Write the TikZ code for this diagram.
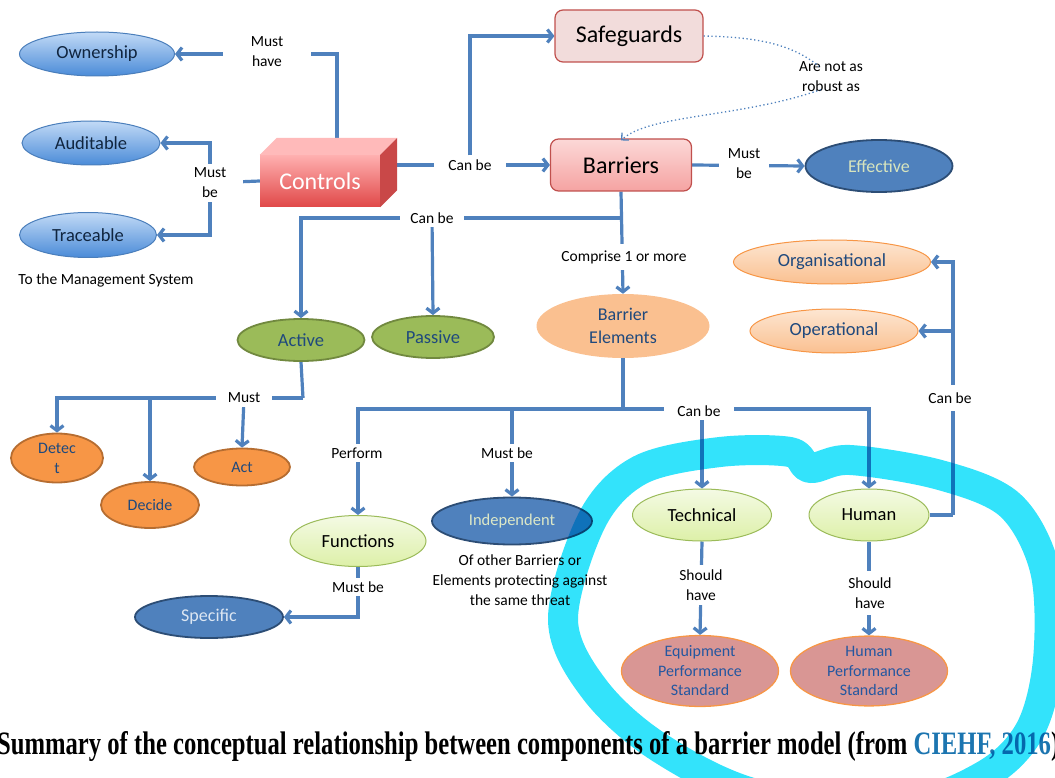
\documentclass[tikz,border=0pt]{standalone}
\usepackage{fontspec}
\setmainfont{Carlito}
\newfontfamily\capfont{Liberation Serif}
\usetikzlibrary{shapes.geometric,arrows.meta}
\definecolor{lineblue}{HTML}{4F81BD}
\definecolor{navy}{HTML}{10253F}
\definecolor{dblue}{HTML}{1F497D}
\definecolor{ownTop}{HTML}{C2DAF6}
\definecolor{ownBot}{HTML}{4A8BD8}
\definecolor{ownBorder}{HTML}{4A7EBB}
\definecolor{midblue}{HTML}{4F81BD}
\definecolor{darkborder}{HTML}{2C4D75}
\definecolor{effText}{HTML}{D7E4BD}
\definecolor{specText}{HTML}{DCE6F2}
\definecolor{greenFill}{HTML}{9BBB59}
\definecolor{greenBorder}{HTML}{71893F}
\definecolor{orangeFill}{HTML}{F79646}
\definecolor{orangeBorder}{HTML}{B66D31}
\definecolor{peach}{HTML}{FAC090}
\definecolor{peachTop}{HTML}{FDE6D2}
\definecolor{ltgreenTop}{HTML}{F4FAE4}
\definecolor{ltgreenBot}{HTML}{DDF0A8}
\definecolor{rose}{HTML}{D99694}
\definecolor{roseText}{HTML}{2457A0}
\definecolor{safeFill}{HTML}{F2DCDB}
\definecolor{redBorder}{HTML}{C0504D}
\definecolor{barTop}{HTML}{FCD8D7}
\definecolor{barBot}{HTML}{F5A3A2}
\definecolor{ctrlTop}{HTML}{FFB0B0}
\definecolor{ctrlBot}{HTML}{E04848}
\definecolor{ctrlLid}{HTML}{FFBABA}
\definecolor{ctrlSide}{HTML}{C94848}
\definecolor{hilite}{HTML}{33E3FB}
\definecolor{citeblue}{HTML}{1C75B0}
\pgfdeclarelayer{bg}
\pgfdeclarelayer{fg}
\pgfsetlayers{bg,main,fg}
\begin{document}
\begin{tikzpicture}[x=1pt,y=-1pt,
  conn/.style={draw=lineblue, line width=3.2pt},
  arr/.style={conn, -{Straight Barb[length=5pt,width=13pt]}},
  dotline/.style={draw=lineblue, line width=1.3pt, dash pattern=on 1.3pt off 2.6pt},
  lbl/.style={fill=white, inner sep=4pt, align=center, font=\fontsize{15.5}{20}\selectfont},
  ell/.style={ellipse, inner sep=0pt, align=center},
  blueell/.style={ell, top color=ownTop, bottom color=ownBot, draw=ownBorder, line width=1pt, text=navy, font=\fontsize{18.5}{22}\selectfont},
  darkell/.style={ell, fill=midblue, draw=darkborder, line width=1.8pt, font=\fontsize{18}{22}\selectfont},
  greenell/.style={ell, fill=greenFill, draw=greenBorder, line width=1.8pt, text=dblue, font=\fontsize{18.5}{22}\selectfont},
  orangeell/.style={ell, fill=orangeFill, draw=orangeBorder, line width=1.8pt, text=dblue, font=\fontsize{16}{20}\selectfont},
  peachell/.style={ell, top color=peachTop, bottom color=peach, draw=orangeFill, line width=1pt, text=dblue, font=\fontsize{18.5}{22}\selectfont},
  ltgreenell/.style={ell, top color=ltgreenTop, bottom color=ltgreenBot, draw=greenFill, line width=1pt, text=black, font=\fontsize{18.5}{22}\selectfont},
  roseell/.style={ell, fill=rose, draw=orangeFill, line width=1.3pt, text=roseText, font=\fontsize{16}{19.5}\selectfont},
  rbox/.style={rectangle, rounded corners=8pt, draw=redBorder, line width=1.2pt, font=\fontsize{24}{28}\selectfont}
]
\useasboundingbox (0,0) rectangle (1055,778);

% ---------- nodes ----------
\node[blueell, minimum width=155pt, minimum height=44pt] (own) at (97,54) {Ownership};
\node[blueell, minimum width=138pt, minimum height=44pt] (aud) at (91,143) {Auditable};
\node[blueell, minimum width=137pt, minimum height=45pt] (trace) at (88,235) {Traceable};
\node[font=\fontsize{15.5}{20}\selectfont] (mgmt) at (106,280) {To the Management System};

\node[rectangle, minimum width=120pt, minimum height=52pt, inner sep=0pt, top color=ctrlTop, bottom color=ctrlBot, text=white, font=\fontsize{24}{28}\selectfont] (controls) at (320,181) {Controls};
\fill[ctrlLid] (controls.north west) -- ++(17,-17) -- ([shift={(17,-17)}]controls.north east) -- (controls.north east) -- cycle;
\fill[ctrlSide] (controls.north east) -- ++(17,-17) -- ([shift={(17,-17)}]controls.south east) -- (controls.south east) -- cycle;
\coordinate (ctrlR) at (397,165);
\coordinate (ctrlT) at (337,138);

\node[rbox, fill=safeFill, minimum width=148pt, minimum height=52pt] (safe) at (629,36) {Safeguards};
\node[rbox, top color=barTop, bottom color=barBot, minimum width=141pt, minimum height=52pt] (barriers) at (621,165) {Barriers};
\node[darkell, text=effText, minimum width=147pt, minimum height=52pt] (eff) at (879,166) {Effective};
\node[align=center, font=\fontsize{15.5}{20}\selectfont] (anr) at (831,77) {Are not as\\robust as};

\node[greenell, minimum width=127pt, minimum height=42pt] (active) at (301,340) {Active};
\node[greenell, minimum width=122pt, minimum height=42pt] (passive) at (433,337) {Passive};
\node[ell, fill=peach, minimum width=173pt, minimum height=64pt, text=dblue, font=\fontsize{18}{23}\selectfont] (be) at (623,326) {Barrier\\Elements};
\node[peachell, minimum width=197pt, minimum height=44pt] (org) at (832,262) {Organisational};
\node[peachell, minimum width=168pt, minimum height=44pt] (oper) at (834,331) {Operational};

\node[orangeell, minimum width=92pt, minimum height=49pt] (detect) at (57,458) {Detec\\t};
\node[orangeell, minimum width=98pt, minimum height=46pt] (decide) at (150,505) {Decide};
\node[orangeell, minimum width=96pt, minimum height=37pt] (act) at (242,467) {Act};

\node[ltgreenell, minimum width=136pt, minimum height=51pt] (func) at (358,541) {Functions};
\node[darkell, text=effText!85!white, minimum width=160pt, minimum height=47pt, font=\fontsize{16.5}{20}\selectfont] (indep) at (512,521) {Independent};
\node[align=center, font=\fontsize{15.5}{20}\selectfont] (note) at (520,580) {Of other Barriers or\\Elements protecting against\\the same threat};
\node[darkell, text=specText, minimum width=148pt, minimum height=42pt] (spec) at (209,617) {Specific};

\node[ltgreenell, minimum width=139pt, minimum height=52pt] (tech) at (702,515) {Technical};
\node[ltgreenell, minimum width=120pt, minimum height=52pt] (human) at (869,515) {Human};
\node[roseell, minimum width=157pt, minimum height=62pt] (eps) at (700,671) {Equipment\\Performance\\Standard};
\node[roseell, minimum width=157pt, minimum height=62pt] (hps) at (869,671) {Human\\Performance\\Standard};

% ---------- labels ----------
\node[lbl, minimum width=88pt] (mh) at (267,52) {Must\\have};
\node[lbl, minimum width=66pt] (mb1) at (210,183) {Must\\be};
\node[lbl, minimum width=72pt] (cb1) at (470,165) {Can be};
\node[lbl, minimum width=50pt] (mb2) at (744,164) {Must\\be};
\node[lbl, minimum width=64pt] (cb2) at (432,218) {Can be};
\node[lbl, inner ysep=6pt] (cp) at (624,257) {Comprise 1 or more};
\node[lbl] (pf) at (357,453) {Perform};
\node[lbl] (mb3) at (507,453) {Must be};
\node[lbl, minimum width=70pt] (cb3) at (699,411) {Can be};
\node[lbl, inner ysep=8pt] (cb4) at (950,398) {Can be};
\node[lbl, inner ysep=5pt] (sh1) at (701,585) {Should\\have};
\node[lbl, inner ysep=7pt] (sh2) at (870,593) {Should\\have};
\node[lbl] (mb4) at (358,587) {Must be};
\node[lbl, minimum width=56pt] (mu) at (244,398) {Must};

\coordinate (jb) at (623,218);
\coordinate (je) at (623,409);
\coordinate (ja) at (303,398);
\coordinate (hr) at (953,515);

% ---------- connectors ----------
\begin{pgfonlayer}{bg}
\draw[arr] (ctrlT) |- (own.east);
\draw[conn] (controls.west) -- (mb1.center);
\draw[arr] (mb1.center) |- (aud.east);
\draw[arr] (mb1.center) |- (trace.east);
\draw[arr] (ctrlR) -- (barriers.west);
\draw[arr] (cb1.north) |- (safe.west);
\draw[arr] (barriers.east) -- (eff.west);
\draw[arr] (barriers.south) -- (be.north);
\draw[arr] (jb) -| (active.north);
\draw[arr] (cb2.center) -- (passive.north);
\draw[conn] (be.south) -- (je);
\draw[arr] (je) -| (func.north);
\draw[arr] (je -| indep.north) -- (indep.north);
\draw[arr] (je) -| (human.north);
\draw[arr] (tech.north |- je) -- (tech.north);
\draw[conn] (human.east) -- (hr);
\draw[arr] (hr) |- (org.east);
\draw[arr] (hr) |- (oper.east);
\draw[arr] (tech.south) -- (eps.north);
\draw[arr] (human.south) -- (hps.north);
\draw[arr] (func.south) |- (spec.east);
\draw[conn] (active.south) -- (ja);
\draw[arr] (ja) -| (detect.north);
\draw[arr] (ja -| decide.north) -- (decide.north);
\draw[arr] (mu.center) -- (act.north);
\end{pgfonlayer}

\draw[dotline] (safe.east) .. controls (750,37) and (790,42) .. ([xshift=-12pt,yshift=-8pt]anr.north);
\draw[dotline, -{Straight Barb[length=5pt,width=10pt]}] ([xshift=-10pt,yshift=6pt]anr.south) .. controls (740,118) and (650,114) .. ([yshift=-2pt]barriers.north);

% ---------- caption ----------
\node[anchor=west, inner sep=0pt] (cap) at (-3,747) {\resizebox{1062pt}{23pt}{\capfont\bfseries Summary of the conceptual relationship between components of a barrier model (from \textcolor{citeblue}{CIEHF, 2016})}};

% ---------- highlight ----------
\begin{pgfonlayer}{fg}
\begin{scope}[blend mode=multiply]
\draw[hilite, line width=30pt, line cap=round, line join=round]
  plot[smooth cycle, tension=0.55] coordinates {(563,620) (592,520) (640,470) (720,452) (790,452) (810,468) (850,460) (940,475) (1010,505) (1045,570) (1048,660) (1030,730) (985,775) (900,805) (760,795) (660,748) (595,690)};
\end{scope}
\end{pgfonlayer}
\end{tikzpicture}
\end{document}
